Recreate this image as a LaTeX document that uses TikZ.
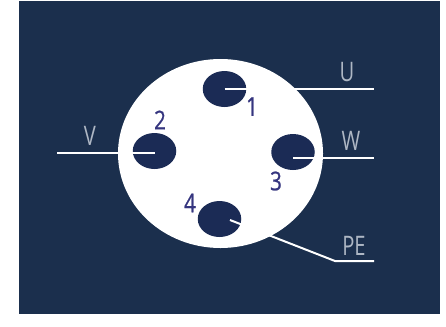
\documentclass[tikz,border=0pt]{standalone}
\usepackage{fontspec}
\setmainfont{Open Sans}
\newfontfamily\pinfont[FakeBold=0.8]{Open Sans}
\usetikzlibrary{shapes.geometric}
\definecolor{panelblue}{HTML}{1B2F4D}
\definecolor{holeblue}{HTML}{1B2B55}
\definecolor{numblue}{HTML}{35357F}
\definecolor{wiretext}{HTML}{AEB7C4}
\tikzset{
  panel/.style={fill=panelblue,draw=none},
  disc/.style={ellipse,fill=white,draw=none,inner sep=0pt,minimum width=205bp,minimum height=189bp},
  hole/.style={ellipse,fill=holeblue,draw=none,inner sep=0pt,minimum width=43.5bp,minimum height=36bp},
  wire/.style={draw=white,line width=2bp},
  pinnum/.style={text=numblue,font=\pinfont\fontsize{26}{26}\selectfont,inner sep=0pt,xscale=.8},
  wirename/.style={text=wiretext,font=\fontsize{27}{27}\selectfont,inner sep=0pt,xscale=.75}
}
\begin{document}
\begin{tikzpicture}[x=1bp,y=-1bp]
\useasboundingbox (0,0) rectangle (446,326);
\fill[white] (0,0) rectangle (446,326);
\path[panel] (19,1) rectangle (440,314);
\node[disc] (body) at (220.5,153.5) {};
\node[hole] (h1) at (224.5,89) {};
\node[hole] (h2) at (154.5,151) {};
\node[hole] (h3) at (293,152) {};
\node[hole] (h4) at (219.5,219) {};
\coordinate (uend) at (374,89);
\coordinate (vend) at (57,153);
\coordinate (wend) at (374,157.5);
\coordinate (peend) at (374,261);
\coordinate (pebend) at (335,261);
\coordinate (pein) at (230,220);
\draw[wire] (h1.center) -- (uend);
\draw[wire] (vend) -- (h2.center |- vend);
\draw[wire] (h3.center |- wend) -- (wend);
\draw[wire] (peend) -- (pebend) -- (pein);
\node[pinnum] (n1) at (252,106.5) {1};
\node[pinnum] (n2) at (160,120) {2};
\node[pinnum] (n3) at (276,181) {3};
\node[pinnum] (n4) at (190,203) {4};
\node[wirename] (lu) at (347,72) {U};
\node[wirename] (lv) at (90,136) {V};
\node[wirename] (lw) at (351,141) {W};
\node[wirename] (lpe) at (354,246) {PE};
\end{tikzpicture}
\end{document}
